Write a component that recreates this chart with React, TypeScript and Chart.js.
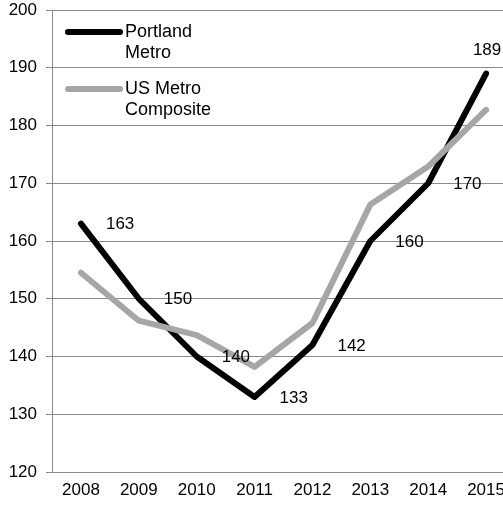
import React, { useEffect, useRef } from "react";
import { Chart, registerables } from "chart.js";

Chart.register(...registerables);

const years = ["2008", "2009", "2010", "2011", "2012", "2013", "2014", "2015"];
const portlandMetro = [163, 150, 140, 133, 142, 160, 170, 189];
const usMetroComposite = [154.5, 146.2, 143.7, 138.2, 145.8, 166.3, 172.9, 182.7];
const seriesNames = ["Portland Metro", "US Metro Composite"];
const legendLines = [["Portland", "Metro"], ["US Metro", "Composite"]];
const yMin = 120;
const yMax = 200;
const yStep = 10;

const FONT = "'Liberation Sans', Arial, sans-serif";

const labelsPlugin = {
  id: "pointLabels",
  afterDatasetsDraw(chart: any) {
    const ctx = chart.ctx;
    const meta = chart.getDatasetMeta(0);
    const data = chart.data.datasets[0].data as number[];
    ctx.save();
    ctx.font = `17px ${FONT}`;
    ctx.fillStyle = "#000";
    meta.data.forEach((pt: any, i: number) => {
      const txt = String(data[i]);
      if (i === data.length - 1) {
        ctx.textAlign = "center";
        ctx.textBaseline = "middle";
        ctx.fillText(txt, pt.x + 1, pt.y - 23);
      } else {
        ctx.textAlign = "left";
        ctx.textBaseline = "middle";
        ctx.fillText(txt, pt.x + 25, pt.y + 1);
      }
    });
    ctx.restore();
  },
};

const legendPlugin = {
  id: "customLegend",
  afterDraw(chart: any) {
    const ctx = chart.ctx;
    ctx.save();
    const rows = [32, 89];
    chart.data.datasets.forEach((ds: any, i: number) => {
      const y = rows[i];
      ctx.strokeStyle = ds.borderColor;
      ctx.lineWidth = 6;
      ctx.lineCap = "round";
      ctx.beginPath();
      ctx.moveTo(68, y);
      ctx.lineTo(120, y);
      ctx.stroke();
      ctx.font = `18px ${FONT}`;
      ctx.fillStyle = "#000";
      ctx.textAlign = "left";
      ctx.textBaseline = "middle";
      legendLines[i].forEach((line, j) => {
        ctx.fillText(line, 125, y + j * 21);
      });
    });
    ctx.restore();
  },
};

export default function App() {
  const canvasRef = useRef<HTMLCanvasElement | null>(null);

  useEffect(() => {
    if (!canvasRef.current) return;
    const chart = new Chart(canvasRef.current, {
      type: "line",
      data: {
        labels: years,
        datasets: [
          {
            label: seriesNames[0],
            data: portlandMetro,
            borderColor: "#000000",
            backgroundColor: "#000000",
            borderWidth: 6,
            borderCapStyle: "round",
            borderJoinStyle: "round",
            pointRadius: 0,
            tension: 0,
            order: 1,
          },
          {
            label: seriesNames[1],
            data: usMetroComposite,
            borderColor: "#a6a6a6",
            backgroundColor: "#a6a6a6",
            borderWidth: 6,
            borderCapStyle: "round",
            borderJoinStyle: "round",
            pointRadius: 0,
            tension: 0,
            order: 0,
          },
        ],
      },
      options: {
        responsive: false,
        animation: false,
        layout: { padding: { top: 10, right: 3, left: 0, bottom: 0 } },
        plugins: {
          legend: { display: false },
          tooltip: { enabled: false },
        },
        scales: {
          x: {
            type: "category",
            offset: true,
            grid: { display: false, drawTicks: false },
            border: { display: true, color: "#888888", width: 1 },
            ticks: {
              font: { family: FONT, size: 17 },
              color: "#000",
              padding: 8,
              maxRotation: 0,
              autoSkip: false,
            },
            afterFit(scale: any) {
              scale.height = 36;
              scale.paddingLeft = 0;
              scale.paddingRight = 0;
            },
          },
          y: {
            min: yMin,
            max: yMax,
            ticks: {
              stepSize: yStep,
              font: { family: FONT, size: 17 },
              color: "#000",
              padding: 9,
            },
            grid: { color: "#888888", lineWidth: 1, tickLength: 6 },
            border: { display: true, color: "#888888", width: 1 },
            afterFit(scale: any) {
              scale.width = 52;
              scale.paddingTop = 0;
              scale.paddingBottom = 0;
            },
          },
        },
      },
      plugins: [labelsPlugin, legendPlugin],
    });
    return () => chart.destroy();
  }, []);

  return (
    <div
      style={{
        position: "fixed",
        left: 0,
        top: 0,
        width: 503,
        height: 508,
        overflow: "hidden",
        background: "#fff",
      }}
    >
      <canvas ref={canvasRef} width={518} height={508} style={{ display: "block" }} />
    </div>
  );
}
